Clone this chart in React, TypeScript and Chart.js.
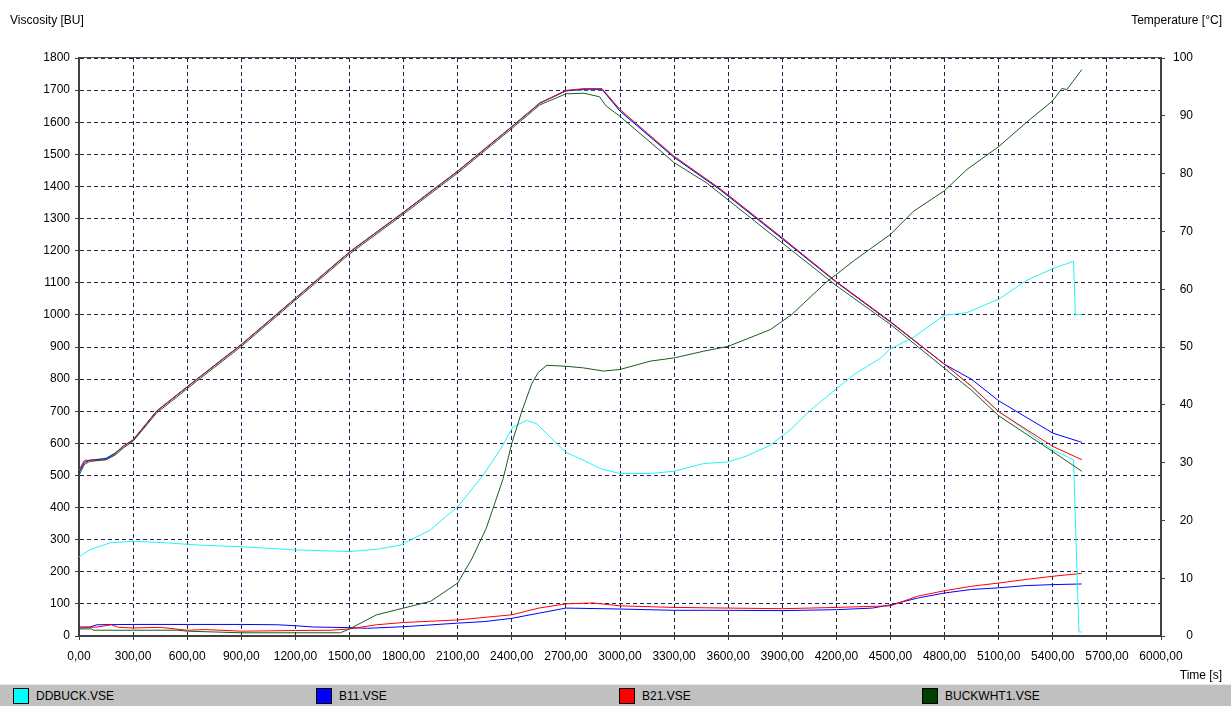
import React, { useEffect, useRef } from "react";
import { Chart, registerables } from "chart.js";

Chart.register(...registerables);

// ---- Axis ranges / ticks ----
const timeMin = 0;
const timeMax = 6000;
const timeStep = 300;
const viscMax = 1800;
const viscStep = 100;
const tempMax = 100;
const tempStep = 10;

// ---- Legend ----
const seriesNames = ["DDBUCK.VSE", "B11.VSE", "B21.VSE", "BUCKWHT1.VSE"];
const seriesColors = ["#00ffff", "#0000ff", "#ff0000", "#004000"];
const lineColors = ["#22f4f4", "#0000ff", "#ff0000", "#1d5a1d"];

// ---- Temperature curves (°C, right axis) ----
const tempTimes = [0, 30, 60, 150, 200, 245, 300, 431, 653, 900, 1200, 1500, 1800, 2100, 2400, 2556, 2700, 2800, 2900, 3000, 3300, 3555, 3900, 4200, 4500, 4800, 4950, 5100, 5400, 5561];
const b11Temp = [28.3, 30.0, 30.4, 30.7, 31.6, 32.8, 33.9, 38.9, 44.4, 50.4, 58.4, 66.4, 73.3, 80.4, 88.1, 92.2, 94.3, 94.6, 94.6, 90.8, 82.8, 77.2, 68.7, 61.2, 54.3, 47.0, 44.4, 40.7, 35.1, 33.5];
const b21Temp = [28.7, 30.4, 30.4, 30.5, 31.5, 32.8, 33.9, 38.9, 44.4, 50.4, 58.4, 66.4, 73.3, 80.4, 88.1, 92.2, 94.4, 94.7, 94.7, 91.1, 83.0, 77.4, 68.9, 61.3, 54.4, 47.0, 43.2, 38.8, 32.8, 30.5];

const ddbuckTempTimes = [0, 30, 60, 150, 200, 245, 300, 431, 653, 900, 1200, 1500, 1800, 2100, 2400, 2556, 2700, 2800, 2900, 3000, 3300, 3555, 3900, 4200, 4500, 4800, 4950, 5100, 5400, 5515, 5545, 5560];
const ddbuckTemp = [28.5, 30.2, 30.4, 30.8, 31.7, 32.9, 34.0, 39.0, 44.5, 50.5, 58.5, 66.5, 73.4, 80.5, 88.2, 92.3, 94.3, 94.5, 94.5, 90.9, 82.9, 77.3, 68.8, 61.2, 54.3, 47.0, 43.1, 38.9, 32.2, 30.5, 0.7, 0.7];

const buckTempTimes = [0, 30, 60, 150, 200, 245, 300, 431, 653, 900, 1200, 1500, 1800, 2100, 2400, 2556, 2700, 2800, 2886, 2923, 3000, 3300, 3480, 3900, 4200, 4500, 4800, 4950, 5100, 5400, 5561];
const buckTemp = [27.8, 29.7, 30.2, 30.5, 31.3, 32.5, 33.7, 38.6, 44.1, 50.1, 58.1, 66.1, 73.0, 80.1, 87.8, 91.9, 93.8, 93.9, 93.3, 91.7, 89.9, 81.9, 78.4, 68.0, 60.6, 53.9, 46.3, 42.5, 38.1, 31.9, 28.5];

// ---- Viscosity curves (BU, left axis) ----
const ddbuckViscTimes = [0, 61, 172, 300, 487, 672, 900, 1200, 1500, 1650, 1780, 1948, 2053, 2100, 2240, 2333, 2407, 2482, 2538, 2594, 2700, 2799, 2892, 3000, 3168, 3300, 3464, 3600, 3700, 3833, 3950, 4050, 4200, 4300, 4441, 4500, 4626, 4800, 4924, 5100, 5257, 5400, 5515, 5525, 5561];
const ddbuckVisc = [246, 269, 290, 295, 290, 283, 278, 268, 263, 270, 283, 330, 381, 402, 500, 578, 651, 671, 661, 630, 572, 547, 521, 506, 506, 513, 537, 542, 560, 594, 645, 700, 770, 815, 864, 894, 930, 999, 1007, 1049, 1108, 1144, 1167, 1001, 1001];

const b11ViscTimes = [0, 60, 100, 300, 600, 900, 1100, 1200, 1300, 1400, 1500, 1600, 1800, 2100, 2250, 2400, 2550, 2700, 3000, 3300, 3600, 3900, 4200, 4400, 4500, 4650, 4800, 4950, 5100, 5250, 5400, 5560];
const b11Visc = [28, 28, 35, 36, 36, 36, 35, 32, 28, 27, 26, 24, 29, 40, 45, 55, 71, 87, 84, 80, 80, 79, 82, 87, 97, 118, 134, 145, 150, 157, 160, 162];

const b21ViscTimes = [0, 100, 180, 220, 300, 450, 600, 700, 900, 1200, 1400, 1500, 1650, 1800, 2100, 2400, 2550, 2700, 2850, 3000, 3300, 3600, 3900, 4200, 4500, 4650, 4800, 4950, 5100, 5250, 5400, 5560];
const b21Visc = [25, 28, 35, 27, 25, 27, 18, 20, 15, 17, 18, 22, 35, 42, 50, 66, 87, 100, 103, 94, 89, 87, 85, 89, 94, 124, 141, 155, 165, 176, 186, 195];

const buckViscTimes = [0, 70, 80, 550, 600, 900, 1200, 1450, 1500, 1650, 1800, 1950, 2100, 2178, 2258, 2352, 2400, 2454, 2510, 2547, 2594, 2700, 2797, 2909, 3000, 3168, 3300, 3464, 3600, 3833, 3950, 4140, 4300, 4441, 4500, 4626, 4800, 4924, 5100, 5257, 5400, 5450, 5478, 5561];
const buckVisc = [22, 22, 18, 18, 15, 10, 10, 10, 22, 66, 87, 108, 165, 240, 335, 490, 600, 697, 785, 821, 843, 840, 835, 825, 830, 856, 866, 887, 902, 954, 1000, 1100, 1170, 1227, 1251, 1322, 1387, 1453, 1524, 1601, 1667, 1705, 1702, 1764];

const zip = (xs: number[], ys: number[]) => xs.map((x, i) => ({ x, y: ys[i] }));

const FONT = "'Liberation Sans', Arial, Helvetica, sans-serif";

const topLine = {
  id: "topLine",
  afterDraw(chart: any) {
    const { ctx, chartArea } = chart;
    ctx.save();
    ctx.strokeStyle = "#505050";
    ctx.lineWidth = 1;
    ctx.beginPath();
    ctx.moveTo(chartArea.left, chartArea.top - 0.5);
    ctx.lineTo(chartArea.right, chartArea.top - 0.5);
    ctx.stroke();
    ctx.restore();
  },
};

export default function App() {
  const ref = useRef<HTMLCanvasElement | null>(null);

  useEffect(() => {
    if (!ref.current) return;
    const line = (label: string, color: string, data: any[], axis: string) => ({
      label,
      data,
      yAxisID: axis,
      borderColor: color,
      backgroundColor: color,
      borderWidth: 1,
      pointRadius: 0,
      tension: 0,
      fill: false,
    });
    const chart = new Chart(ref.current, {
      type: "line",
      data: {
        datasets: [
          line(seriesNames[3] + " T", lineColors[3], zip(buckTempTimes, buckTemp), "y2"),
          line(seriesNames[2] + " T", lineColors[2], zip(tempTimes, b21Temp), "y2"),
          line(seriesNames[1] + " T", lineColors[1], zip(tempTimes, b11Temp), "y2"),
          line(seriesNames[0] + " T", lineColors[0], zip(ddbuckTempTimes, ddbuckTemp), "y2"),
          line(seriesNames[3], lineColors[3], zip(buckViscTimes, buckVisc), "y"),
          line(seriesNames[2], lineColors[2], zip(b21ViscTimes, b21Visc), "y"),
          line(seriesNames[1], lineColors[1], zip(b11ViscTimes, b11Visc), "y"),
          line(seriesNames[0], lineColors[0], zip(ddbuckViscTimes, ddbuckVisc), "y"),
        ],
      },
      options: {
        animation: false,
        responsive: false,
        maintainAspectRatio: false,
        devicePixelRatio: 1,
        events: [],
        layout: { padding: { top: 58, left: 0, right: 38, bottom: 0 } },
        plugins: { legend: { display: false }, tooltip: { enabled: false }, title: { display: false } },
        scales: {
          x: {
            type: "linear",
            min: timeMin,
            max: timeMax,
            afterFit: (s: any) => { s.height = 50; },
            afterBuildTicks: (s: any) => {
              const t = [];
              for (let v = timeMin; v <= timeMax; v += timeStep) t.push({ value: v });
              s.ticks = t;
            },
            ticks: {
              autoSkip: false,
              maxRotation: 0,
              padding: 9,
              color: "#000",
              font: { family: FONT, size: 12 },
              callback: (v: any) => Number(v).toFixed(2).replace(".", ","),
            },
            grid: { color: "#22224e", lineWidth: 1, tickLength: 4, tickColor: "#404040", tickBorderDash: [] },
            border: { display: true, color: "#404040", width: 2, dash: [4, 3] },
          },
          y: {
            position: "left",
            min: 0,
            max: viscMax,
            afterFit: (s: any) => { s.width = 79; },
            ticks: { stepSize: viscStep, padding: 5, color: "#000", font: { family: FONT, size: 12 }, callback: (v: any) => String(v) },
            grid: { color: "#22224e", lineWidth: 1, tickLength: 4, tickColor: "#404040", tickBorderDash: [] },
            border: { display: true, color: "#404040", width: 2, dash: [4, 3] },
          },
          y2: {
            position: "right",
            min: 0,
            max: tempMax,
            afterFit: (s: any) => { s.width = 32; },
            ticks: { stepSize: tempStep, padding: 9, crossAlign: "far", color: "#000", font: { family: FONT, size: 12 }, callback: (v: any) => String(v) },
            grid: { drawOnChartArea: false, tickLength: 4, tickColor: "#404040" },
            border: { display: true, color: "#404040", width: 2 },
          },
        },
      },
      plugins: [topLine],
    } as any);
    return () => chart.destroy();
  }, []);

  const legendLeft = [13, 316, 619, 922];

  return (
    <div style={{ position: "absolute", left: 0, top: 0, width: 1231, height: 706, background: "#fff", overflow: "hidden", fontFamily: FONT, fontSize: 12, color: "#000" }}>
      <canvas ref={ref} width={1231} height={686} style={{ position: "absolute", left: 0, top: 0, width: 1231, height: 686 }} />
      <div style={{ position: "absolute", left: 10, top: 13, lineHeight: "15px", whiteSpace: "nowrap" }}>Viscosity [BU]</div>
      <div style={{ position: "absolute", right: 9, top: 13, lineHeight: "15px", whiteSpace: "nowrap" }}>Temperature [°C]</div>
      <div style={{ position: "absolute", right: 9, top: 668, lineHeight: "15px", whiteSpace: "nowrap" }}>Time [s]</div>
      <div style={{ position: "absolute", left: 0, top: 684, width: 1231, height: 22, background: "#c0c0c0", borderTop: "1px solid #e8e8e8", boxSizing: "border-box" }}>
        {seriesNames.map((n, i) => (
          <div key={n} style={{ position: "absolute", left: legendLeft[i], top: 3 }}>
            <div style={{ position: "absolute", left: 0, top: 0, width: 14, height: 14, background: seriesColors[i], border: "1px solid #000" }} />
            <div style={{ position: "absolute", left: 23, top: 0, lineHeight: "16px", whiteSpace: "nowrap" }}>{n}</div>
          </div>
        ))}
      </div>
    </div>
  );
}
